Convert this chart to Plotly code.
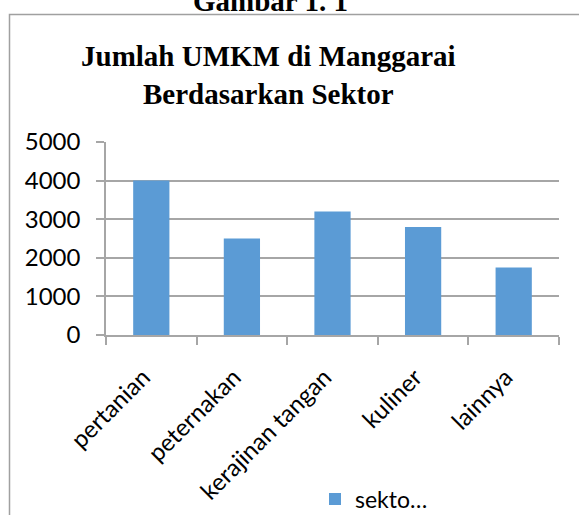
import plotly.graph_objects as go

categories = ["pertanian", "peternakan", "kerajinan tangan", "kuliner", "lainnya"]
values = [4000, 2500, 3200, 2800, 1750]
series_name = "sekto…"
y_ticks = [0, 1000, 2000, 3000, 4000, 5000]

W, H = 579, 515
L, R, T, B = 106, 559, 142, 335  # plot area in pixels

def px(x):
    return (x - L) / (R - L)

def py(y):
    return (B - y) / (B - T)

fig = go.Figure()
fig.add_trace(go.Bar(x=categories, y=values, name=series_name,
                     marker=dict(color="#5B9BD5", line=dict(width=0)),
                     width=0.4, showlegend=True))

font_sans = "Lato, 'Open Sans', sans-serif"
font_serif = "'Liberation Serif', 'Times New Roman', serif"

fig.update_layout(
    width=W, height=H,
    margin=dict(l=L, r=W - R, t=T, b=H - B, pad=0, autoexpand=False),
    paper_bgcolor="white", plot_bgcolor="white",
    font=dict(family=font_sans, size=24, color="black"),
    showlegend=True,
    legend=dict(x=px(315), y=py(499), xanchor="left", yanchor="middle",
                font=dict(size=23, family=font_sans), itemwidth=30,
                bgcolor="rgba(0,0,0,0)"),
    bargap=0.6,
    xaxis=dict(type="category", tickangle=-45, showgrid=False, automargin=False,
               showline=True, linecolor="#A6A6A6", linewidth=1.5,
               ticks="outside", tickson="boundaries", ticklen=8,
               tickcolor="#A6A6A6", tickwidth=1.5,
               ticklabelshift=-8, ticklabelstandoff=17,
               tickfont=dict(size=24, family=font_sans, color="black")),
    yaxis=dict(range=[0, 5000], tickvals=y_ticks, showgrid=True, automargin=False,
               gridcolor="#A6A6A6", gridwidth=1.5,
               showline=True, linecolor="#A6A6A6", linewidth=1.5,
               ticks="outside", ticklen=8, tickcolor="#A6A6A6", tickwidth=1.5,
               ticklabelstandoff=11, zeroline=False,
               tickfont=dict(size=24, family=font_sans, color="black")),
)

# chart border
fig.add_shape(type="rect", xref="paper", yref="paper",
              x0=px(9.5), x1=px(600), y0=py(14.5), y1=py(560),
              line=dict(color="#A0A0A0", width=1.5), fillcolor="rgba(0,0,0,0)",
              layer="below")

# chart title
fig.add_annotation(xref="paper", yref="paper", x=px(268), y=py(75),
                   text="<b>Jumlah UMKM di Manggarai<br>Berdasarkan Sektor</b>",
                   showarrow=False, xanchor="center", yanchor="middle",
                   font=dict(family=font_serif, size=29, color="black"))

# figure caption (cut off at top, as in the reference)
fig.add_annotation(xref="paper", yref="paper", x=px(270), y=py(19),
                   text="<b>Gambar 1. 1</b>",
                   showarrow=False, xanchor="center", yanchor="bottom",
                   font=dict(family=font_serif, size=29, color="black"))

fig.write_html("out.html", config={"displayModeBar": False},
               post_script="document.body.style.margin='0';document.body.style.overflow='hidden';")
